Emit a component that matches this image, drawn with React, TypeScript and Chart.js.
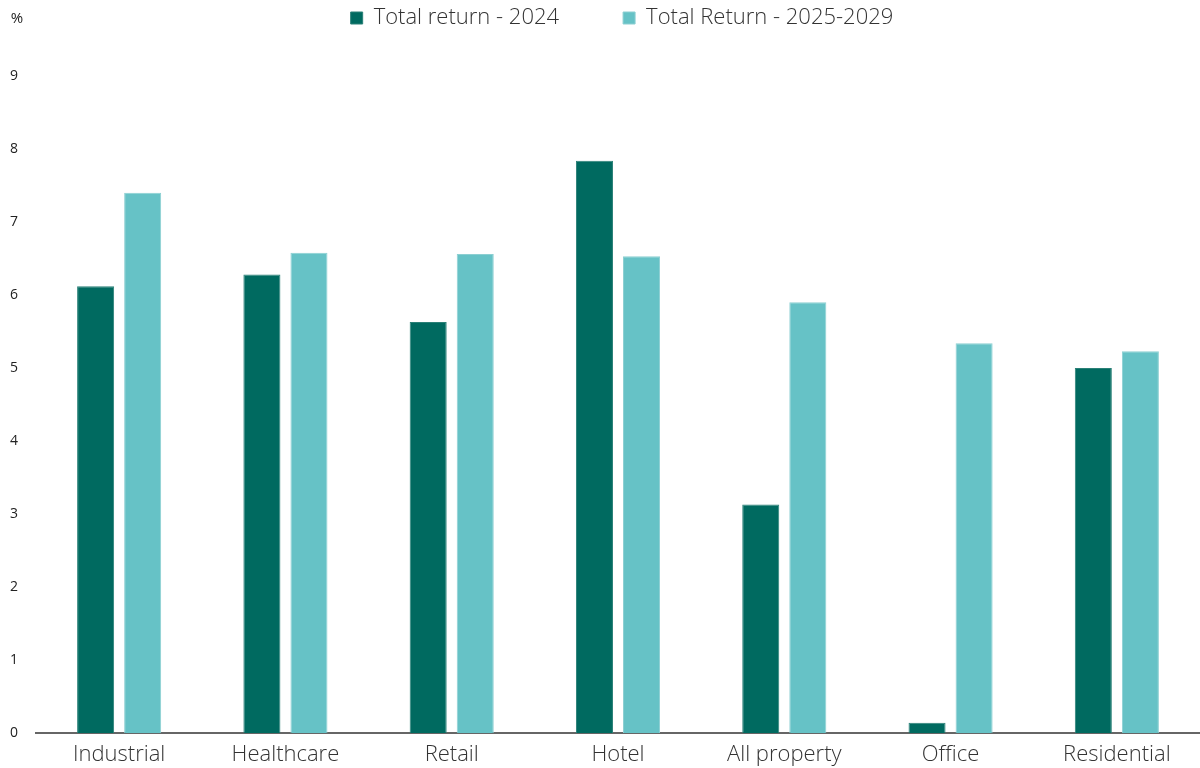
import React, { useEffect, useRef } from "react";
import { Chart, registerables } from "chart.js";

Chart.register(...registerables);

const categories = ["Industrial", "Healthcare", "Retail", "Hotel", "All property", "Office", "Residential"];
const return2024 = [6.12, 6.28, 5.63, 7.84, 3.13, 0.14, 5.0];
const return2025to2029 = [7.4, 6.58, 6.56, 6.53, 5.9, 5.34, 5.23];
const seriesLabels = ["Total return - 2024", "Total Return - 2025-2029"];
const yTicks = [0, 1, 2, 3, 4, 5, 6, 7, 8, 9];

const DARK = "#006a60";
const LIGHT = "#66c2c6";
const FONT = "'Open Sans', sans-serif";
const LEGEND_PAD = 64;

export default function App() {
  const ref = useRef<HTMLCanvasElement | null>(null);
  useEffect(() => {
    document.body.style.margin = "0";
    if (!ref.current) return;
    const percentPlugin = {
      id: "percentLabel",
      beforeInit(chart: any) {
        const lg = chart.legend;
        if (lg) {
          const origFit = lg.fit.bind(lg);
          lg.fit = function () {
            origFit();
            this.height = 76;
          };
          const origDraw = lg.draw.bind(lg);
          lg.draw = function () {
            const t = this.top;
            const l = this.left;
            const r = this.right;
            this.top = t + 7 - LEGEND_PAD;
            this.left = l + 22;
            this.right = r + 22;
            origDraw();
            this.top = t;
            this.left = l;
            this.right = r;
          };
        }
      },
      afterDraw(chart: any) {
        const ctx = chart.ctx;
        ctx.save();
        ctx.font = `15px ${FONT}`;
        ctx.fillStyle = "#222";
        ctx.textAlign = "center";
        ctx.textBaseline = "middle";
        ctx.fillText("%", 17, 19);
        ctx.restore();
      },
    };
    const chart = new Chart(ref.current, {
      type: "bar",
      data: {
        labels: categories,
        datasets: [
          {
            label: seriesLabels[0],
            data: return2024,
            backgroundColor: DARK,
            borderColor: "#2a8077",
            borderWidth: 1,
            categoryPercentage: 0.566,
            barPercentage: 0.787,
          },
          {
            label: seriesLabels[1],
            data: return2025to2029,
            backgroundColor: LIGHT,
            borderColor: "#8ccfd2",
            borderWidth: 1,
            categoryPercentage: 0.566,
            barPercentage: 0.787,
          },
        ],
      },
      options: {
        responsive: false,
        animation: false,
        layout: { padding: { top: 0, right: 0, left: 0, bottom: 0 } },
        plugins: {
          legend: {
            position: "top",
            labels: {
              boxWidth: 12,
              boxHeight: 12,
              padding: LEGEND_PAD,
              color: "#333",
              font: { family: FONT, size: 22, weight: "300" },
            },
          },
          tooltip: { enabled: false },
        },
        scales: {
          x: {
            grid: { display: false },
            border: { display: true, color: "#666", width: 2 },
            ticks: { color: "#333", font: { family: FONT, size: 22, weight: "300" }, padding: 1 },
            afterFit(s: any) {
              s.height = 35;
            },
          },
          y: {
            min: 0,
            max: 9,
            afterBuildTicks(s: any) {
              s.ticks = yTicks.map((v) => ({ value: v }));
            },
            grid: { display: false },
            border: { display: false },
            ticks: { color: "#222", font: { family: FONT, size: 14 }, padding: 10 },
            afterFit(s: any) {
              s.width = 36;
            },
          },
        },
      },
      plugins: [percentPlugin],
    });
    return () => chart.destroy();
  }, []);
  return <canvas ref={ref} width={1200} height={768} style={{ display: "block" }} />;
}
